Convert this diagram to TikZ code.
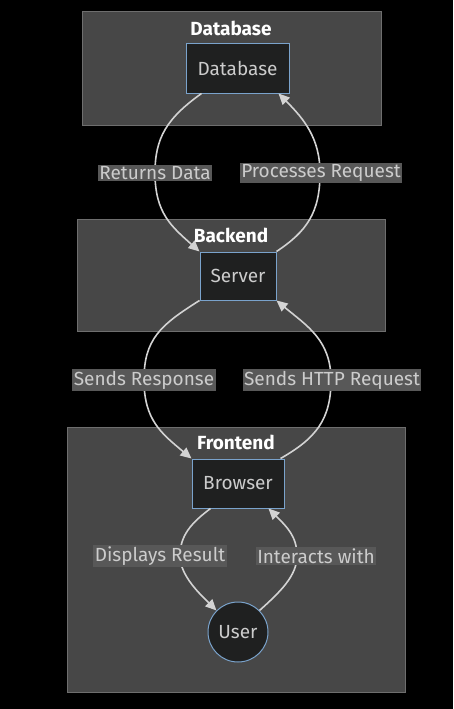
\documentclass[tikz,border=0pt]{standalone}
\usepackage{fontspec}
\setmainfont{Fira Sans}
\usetikzlibrary{arrows.meta}

\definecolor{clfill}{HTML}{474747}
\definecolor{clline}{HTML}{6E6E6E}
\definecolor{ndfill}{HTML}{1F2020}
\definecolor{ndline}{HTML}{7AA3CC}
\definecolor{ndtext}{HTML}{CCCCCC}
\definecolor{lbfill}{HTML}{585858}
\definecolor{edge}{HTML}{D3D3D3}

\tikzset{
  cluster/.style={draw=clline, fill=clfill, line width=1pt},
  ctitle/.style={text=white, font=\fontsize{19}{22}\selectfont\bfseries},
  box/.style={draw=ndline, fill=ndfill, text=ndtext, line width=1pt, minimum height=49pt, font=\fontsize{19}{22}\selectfont},
  lbl/.style={fill=lbfill, text=ndtext, inner sep=1.5pt, font=\fontsize{19}{22}\selectfont},
  flow/.style={draw=edge, line width=1.6pt, -{Triangle[length=11pt,width=10pt]}}
}

\begin{document}
\begin{tikzpicture}[x=1pt,y=-1pt]
      \fill[black] (0,0) rectangle (453,709);
      \useasboundingbox (0,0) rectangle (453,709);

      % groups
      \draw[cluster] (82,12) rectangle (381,125);
      \draw[cluster] (77,219) rectangle (385,331);
      \draw[cluster] (67,427) rectangle (405,692);
      \node[ctitle] (t1) at (231,28) {Database};
      \node[ctitle] (t2) at (231,235) {Backend};
      \node[ctitle] (t3) at (236,442) {Frontend};

      % nodes
      \node[box, minimum width=103pt] (db) at (237.5,68.5) {Database};
      \node[box, minimum width=76pt, minimum height=48pt] (srv) at (238,276) {Server};
      \node[box, minimum width=92pt] (br) at (238,483.5) {Browser};
      \node[box, circle, minimum size=60pt, inner sep=0pt] (usr) at (238,632) {User};

      % points the edges pass through
      \coordinate (p1) at (155,173);
      \coordinate (p2) at (320,173);
      \coordinate (p3) at (144,380);
      \coordinate (p4) at (331,380);
      \coordinate (p5) at (180,556);
      \coordinate (p6) at (297,556);

      \draw[flow] ([xshift=16pt]db.south west) .. controls +(-35,25) and +(0,-35) .. (p1)
        .. controls +(0,40) and +(-28,-25) .. (srv.north west);
      \draw[flow] (srv.north east) .. controls +(30,-20) and +(0,40) .. (p2)
        .. controls +(0,-35) and +(25,25) .. ([xshift=-11pt]db.south east);
      \draw[flow] (srv.south west) .. controls +(-40,25) and +(0,-40) .. (p3)
        .. controls +(0,40) and +(-30,-25) .. (br.north west);
      \draw[flow] ([xshift=-4pt]br.north east) .. controls +(35,-20) and +(0,40) .. (p4)
        .. controls +(0,-40) and +(30,25) .. (srv.south east);
      \draw[flow] ([xshift=19pt]br.south west) .. controls +(-20,15) and +(0,-20) .. (p5)
        .. controls +(0,20) and +(-15,-15) .. (usr.135);
      \draw[flow] (usr.45) .. controls +(20,-18) and +(0,20) .. (p6)
        .. controls +(0,-20) and +(18,18) .. ([xshift=-16pt]br.south east);

      % edge labels
      \node[lbl] (l1) at (155,173) {Returns Data};
      \node[lbl] (l2) at (321,173) {Processes Request};
      \node[lbl] (l3) at (144,380) {Sends Response};
      \node[lbl] (l4) at (332,380) {Sends HTTP Request};
      \node[lbl] (l5) at (160,556) {Displays Result};
      \node[lbl] (l6) at (316,556) {Interacts with};
    \end{tikzpicture}
\end{document}
